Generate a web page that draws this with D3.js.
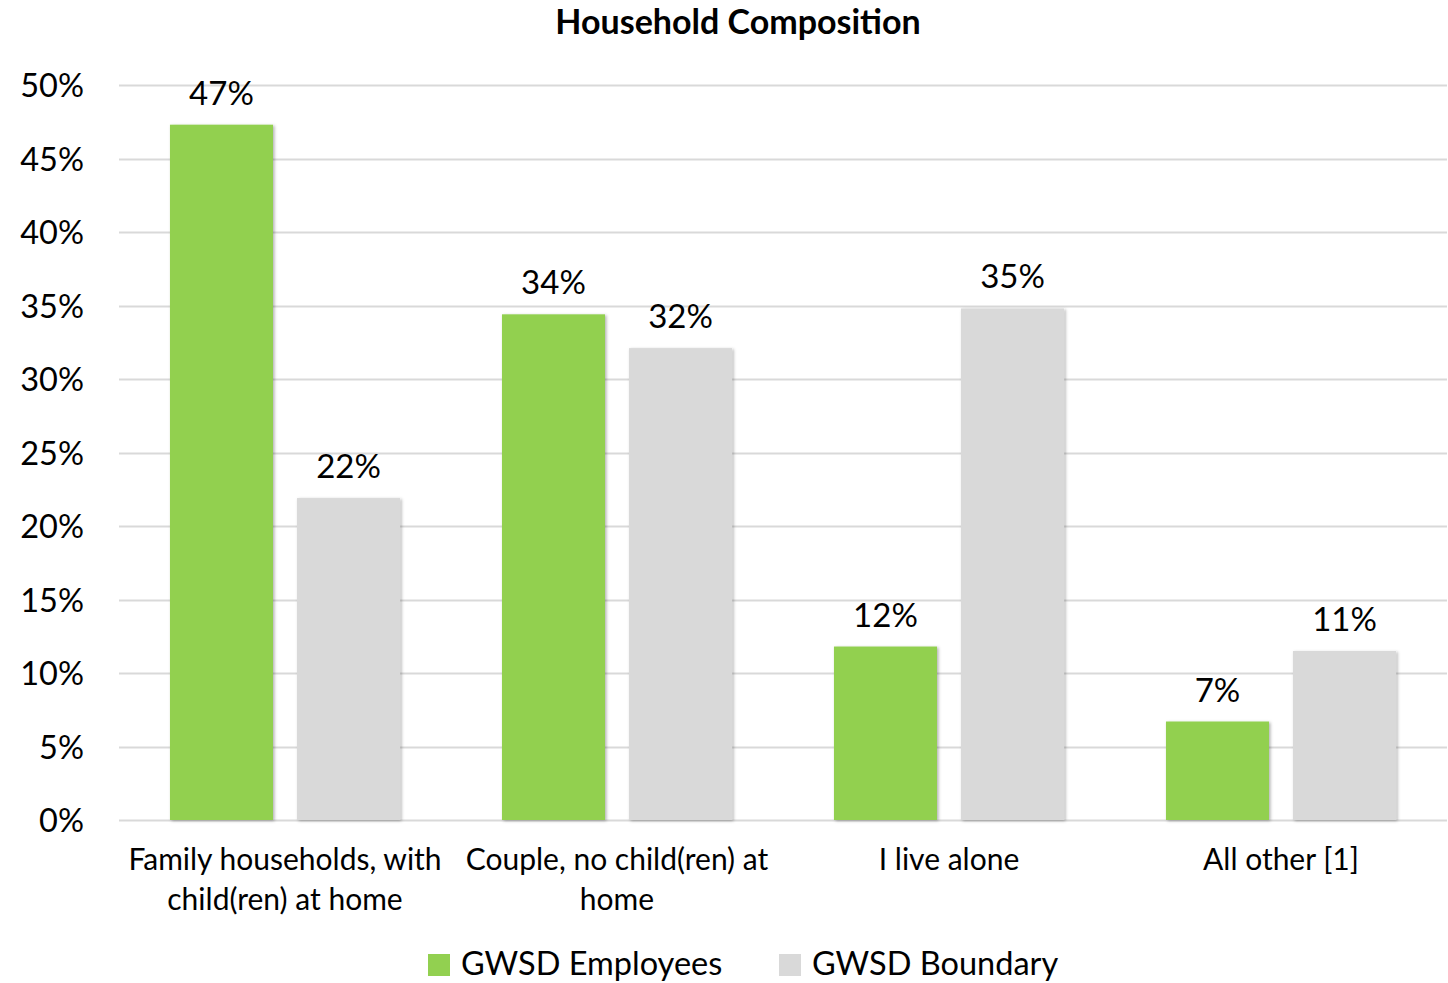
<!DOCTYPE html>
<html>
<head>
<meta charset="utf-8">
<script src="https://cdn.jsdelivr.net/npm/d3@7"></script>
<style>
  html, body { margin: 0; padding: 0; background: #fff; }
  svg { display: block; }
  text { font-family: Lato, "Open Sans", sans-serif; fill: #000; }
</style>
</head>
<body>
<svg id="chart" width="1448" height="983"></svg>
<script>
// Household composition shares by category
const categories = [
  ["Family households, with", "child(ren) at home"],
  ["Couple, no child(ren) at", "home"],
  ["I live alone"],
  ["All other [1]"]
];
const seriesNames = ["GWSD Employees", "GWSD Boundary"];
const employees = [47.3, 34.4, 11.8, 6.7];
const boundary = [21.9, 32.1, 34.8, 11.5];
const employeeLabels = ["47%", "34%", "12%", "7%"];
const boundaryLabels = ["22%", "32%", "35%", "11%"];
const yTicks = [0, 5, 10, 15, 20, 25, 30, 35, 40, 45, 50];
const colors = ["#92D050", "#D9D9D9"];

const svg = d3.select("#chart");
const margin = { left: 119, right: 1, top: 85, bottom: 163 };
const W = 1448, H = 983;

const defs = svg.append("defs");
const shadow = defs.append("filter").attr("id", "barShadow")
  .attr("x", "-10%").attr("y", "-10%").attr("width", "130%").attr("height", "130%");
shadow.append("feDropShadow").attr("dx", 1.5).attr("dy", 1).attr("stdDeviation", 1.6)
  .attr("flood-color", "#000").attr("flood-opacity", 0.3);

const x0 = d3.scaleBand()
  .domain(d3.range(categories.length))
  .range([margin.left, W - margin.right])
  .paddingInner(0.307).paddingOuter(0.1535);
const x1 = d3.scaleBand()
  .domain([0, 1])
  .range([0, x0.bandwidth()])
  .paddingInner(0.189).paddingOuter(0);
const y = d3.scaleLinear().domain([0, 50]).range([H - margin.bottom, margin.top]);

// Title
svg.append("text")
  .attr("x", 738).attr("y", 34)
  .attr("text-anchor", "middle")
  .style("font-size", "34px").style("font-weight", "bold")
  .text("Household Composition");

// Gridlines
svg.append("g")
  .selectAll("line").data(yTicks).join("line")
  .attr("x1", margin.left).attr("x2", W - margin.right)
  .attr("y1", d => Math.round(y(d)) + 0.5).attr("y2", d => Math.round(y(d)) + 0.5)
  .attr("stroke", "#D9D9D9").attr("stroke-width", 2);

// Y axis labels
const yAxis = d3.axisLeft(y).tickValues(yTicks).tickFormat(d => d + "%").tickSize(0).tickPadding(0);
const yg = svg.append("g").attr("transform", "translate(84,0)").call(yAxis);
yg.select(".domain").remove();
yg.selectAll("text").style("font-size", "32.5px").attr("dy", "0.36em")
  .style("font-family", "Lato, 'Open Sans', sans-serif");

// Bars
const rows = categories.map((c, i) => ({ i, values: [employees[i], boundary[i]], labels: [employeeLabels[i], boundaryLabels[i]] }));
const groups = svg.append("g").selectAll("g").data(rows).join("g")
  .attr("transform", d => `translate(${x0(d.i)},0)`);

groups.selectAll("rect").data(d => d.values.map((v, s) => ({ v, s }))).join("rect")
  .attr("x", d => x1(d.s))
  .attr("width", x1.bandwidth())
  .attr("y", d => y(d.v))
  .attr("height", d => y(0) - y(d.v))
  .attr("fill", d => colors[d.s])
  .attr("filter", "url(#barShadow)");

groups.selectAll("text.val").data(d => d.values.map((v, s) => ({ v, s, label: d.labels[s] }))).join("text")
  .attr("class", "val")
  .attr("x", d => x1(d.s) + x1.bandwidth() / 2)
  .attr("y", d => y(d.v) - 20)
  .attr("text-anchor", "middle")
  .style("font-size", "33px")
  .text(d => d.label);

// Category labels
const catG = svg.append("g").selectAll("text").data(categories).join("text")
  .attr("text-anchor", "middle")
  .attr("x", (d, i) => x0(i) + x0.bandwidth() / 2)
  .attr("y", 870)
  .style("font-size", "30px");
catG.selectAll("tspan").data(d => d).join("tspan")
  .attr("x", function () { return this.parentNode.getAttribute("x"); })
  .attr("dy", (d, i) => i === 0 ? 0 : 40)
  .text(d => d);

// Legend
const legend = svg.append("g");
const legendX = [428, 779];
seriesNames.forEach((name, s) => {
  legend.append("rect")
    .attr("x", legendX[s]).attr("y", 954).attr("width", 22).attr("height", 22)
    .attr("fill", colors[s]);
  legend.append("text")
    .attr("x", legendX[s] + 33).attr("y", 975)
    .style("font-size", "32.5px")
    .text(name);
});
</script>
</body>
</html>
